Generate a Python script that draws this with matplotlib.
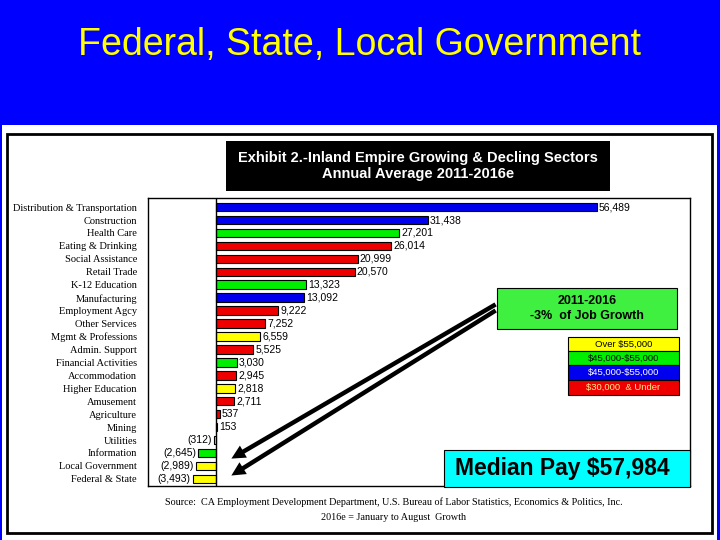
import matplotlib
matplotlib.use('Agg')
import matplotlib.pyplot as plt
from matplotlib.patches import Rectangle, FancyArrowPatch
from matplotlib import font_manager

# sectors, top to bottom
sectors = ['Distribution & Transportation', 'Construction', 'Health Care', 'Eating & Drinking',
           'Social Assistance', 'Retail Trade', 'K-12 Education', 'Manufacturing',
           'Employment Agcy', 'Other Services', 'Mgmt & Professions', 'Admin. Support',
           'Financial Activities', 'Accommodation', 'Higher Education', 'Amusement',
           'Agriculture', 'Mining', 'Utilities', 'Information', 'Local Government',
           'Federal & State']
jobs = [56489, 31438, 27201, 26014, 20999, 20570, 13323, 13092, 9222, 7252, 6559, 5525,
        3030, 2945, 2818, 2711, 537, 153, -312, -2645, -2989, -3493]
# pay band of each sector
pay_band = ['mid_b', 'mid_b', 'mid_g', 'low', 'low', 'low', 'mid_g', 'mid_b', 'low', 'low',
            'high', 'low', 'mid_g', 'low', 'high', 'low', 'low', 'high', 'high', 'mid_g',
            'high', 'high']

legend_labels = ['Over $55,000', '$45,000-$55,000', '$45,000-$55,000', '$30,000  & Under']
legend_bands = ['high', 'mid_g', 'mid_b', 'low']

BAND_COLORS = {'high': '#ffff00', 'mid_g': '#00ee00', 'mid_b': '#0000ee', 'low': '#ee0000'}
BAND_TEXT = {'high': 'black', 'mid_g': 'black', 'mid_b': 'white', 'low': '#ffee88'}


def has_font(name):
    try:
        font_manager.findfont(name, fallback_to_default=False)
        return True
    except ValueError:
        return False


NARROW = 'Liberation Sans Narrow' if has_font('Liberation Sans Narrow') else 'Liberation Sans'
SANS = 'Liberation Sans'
SERIF = 'Liberation Serif'

W, H = 720, 540


def fx(x):
    return x / W


def fy(y):
    return 1 - y / H


def fig_rect(fig, x0, y0, x1, y1, **kw):
    r = Rectangle((fx(x0), fy(y1)), fx(x1) - fx(x0), fy(y0) - fy(y1),
                  transform=fig.transFigure, **kw)
    fig.patches.append(r)
    return r


fig = plt.figure(figsize=(7.2, 5.4), dpi=100, facecolor='#0000ff')

# white panel and frame
fig_rect(fig, 2, 125, 717, 541, facecolor='white', edgecolor='none', zorder=-2)
fig_rect(fig, 7, 134, 712, 533, facecolor='none', edgecolor='black', linewidth=2, zorder=1)

fig.text(fx(360), fy(45), 'Federal, State, Local Government', color='#ffff00',
         fontsize=27 if NARROW == SANS else 30, family=NARROW, ha='center', va='center')

# exhibit title
fig_rect(fig, 226, 141, 610, 191, facecolor='black', edgecolor='none', zorder=1)
fig.text(fx(418), fy(166), 'Exhibit 2.-Inland Empire Growing & Decling Sectors\nAnnual Average 2011-2016e',
         color='white', fontsize=12 if NARROW != SANS else 10.5, family=NARROW, weight='bold',
         ha='center', va='center', linespacing=1.25, zorder=2)

ax = fig.add_axes([fx(148), fy(486), fx(690) - fx(148), fy(198) - fy(486)])
ypos = list(range(len(sectors)))
ax.barh(ypos, jobs, height=0.66, color=[BAND_COLORS[b] for b in pay_band],
        edgecolor='black', linewidth=0.8, zorder=2)
ax.axvline(0, color='black', linewidth=1, zorder=3)
ax.set_xlim(-10100, 70300)
ax.set_ylim(len(sectors) - 0.45, -0.7)
ax.set_yticks(ypos)
ax.set_yticklabels(sectors, family=SERIF, fontsize=7.5)
ax.set_xticks([])
ax.tick_params(axis='y', length=0, pad=8)
for s in ax.spines.values():
    s.set_linewidth(1)

for i, v in enumerate(jobs):
    if v >= 0:
        ax.text(v + 300, i, f'{v:,}', family=SANS, fontsize=7.5, ha='left', va='center')
    else:
        ax.text(v - 300, i, f'({-v:,})', family=SANS, fontsize=7.5, ha='right', va='center')

# job growth note
fig_rect(fig, 497, 288, 677, 329, facecolor='#40f040', edgecolor='black', linewidth=0.8, zorder=4)
fig.text(fx(587), fy(308.5), '2011-2016\n-3%  of Job Growth', family=SANS, weight='bold',
         fontsize=9, ha='center', va='center', linespacing=1.3, zorder=5)

# arrows to the government rows
for start, end in [((498, 303), (229, 460)), ((498, 309), (229, 477))]:
    arr = FancyArrowPatch((fx(start[0]), fy(start[1])), (fx(end[0]), fy(end[1])),
                          transform=fig.transFigure,
                          arrowstyle='simple,head_length=1.0,head_width=1.0,tail_width=0.32',
                          mutation_scale=10, linewidth=0, color='black', zorder=4)
    fig.patches.append(arr)

# pay band key
key_rows = [(337, 351), (351, 365), (365, 380), (380, 395)]
for (y0, y1), lab, band in zip(key_rows, legend_labels, legend_bands):
    fig_rect(fig, 568, y0, 679, y1, facecolor=BAND_COLORS[band], edgecolor='black',
             linewidth=0.8, zorder=4)
    fig.text(fx(623.5), fy((y0 + y1) / 2), lab, family=NARROW, fontsize=7.5 if NARROW != SANS else 6.8,
             color=BAND_TEXT[band], ha='center', va='center', zorder=5, parse_math=False)

# median pay
fig_rect(fig, 444, 450, 690, 487, facecolor='#00ffff', edgecolor='black', linewidth=0.8, zorder=4)
fig.text(fx(562), fy(468.5), 'Median Pay $57,984', family=SANS, weight='bold', fontsize=16.5,
         ha='center', va='center', zorder=5, parse_math=False)

fig.text(fx(394), fy(502), 'Source:  CA Employment Development Department, U.S. Bureau of Labor Statistics, '
         'Economics & Politics, Inc.', family=SERIF, fontsize=7.3, ha='center', va='center')
fig.text(fx(394), fy(517), '2016e = January to August  Growth', family=SERIF, fontsize=7.3,
         ha='center', va='center')

fig.savefig('out.png', dpi=100, facecolor=fig.get_facecolor())
